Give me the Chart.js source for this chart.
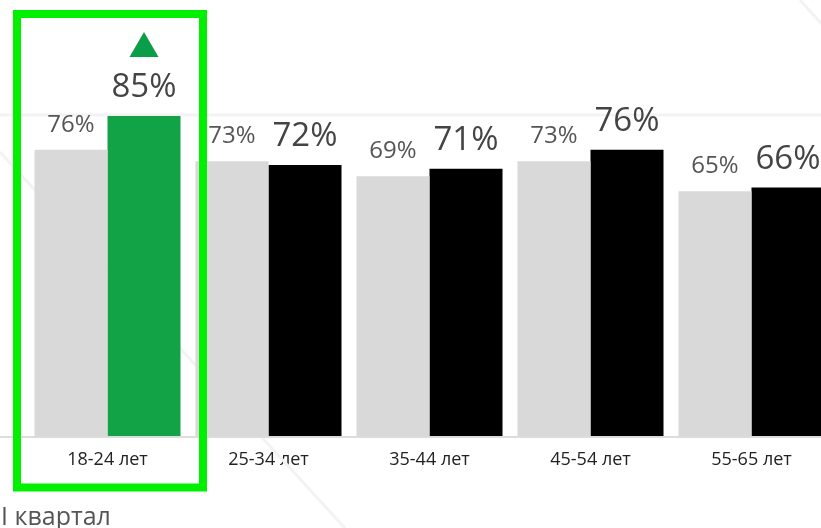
<!DOCTYPE html>
<html>
<head>
<meta charset="utf-8">
<script src="https://cdn.jsdelivr.net/npm/chart.js@4"></script>
<style>
    html, body { margin: 0; padding: 0; background: #fff; overflow: hidden; }
    #wrap { position: absolute; left: 0; top: 0; width: 832px; height: 528px; }
</style>
</head>
<body>
<div id="wrap"><canvas id="ageChart"></canvas></div>
<script>

const categories = ['18-24 лет', '25-34 лет', '35-44 лет', '45-54 лет', '55-65 лет'];
const prevValues = [76, 73, 69, 73, 65];
const currValues = [85, 72, 71, 76, 66];
const currColors = ['#13a347', '#000000', '#000000', '#000000', '#000000'];
const highlightIndex = 0;
const periodTitle = 'I квартал';

const FONT = '"Open Sans", sans-serif';

// faint background strokes, drawn under the bars
const backdrop = {
    id: 'backdrop',
    beforeDatasetsDraw(chart) {
        const ctx = chart.ctx;
        ctx.save();
        ctx.strokeStyle = '#f3f3f3';
        ctx.lineWidth = 3;
        ctx.beginPath();
        ctx.moveTo(0, 115); ctx.lineTo(chart.width, 115);
        ctx.moveTo(0, 152); ctx.lineTo(345, 528);
        ctx.moveTo(800, 0); ctx.lineTo(840, 44);
        ctx.stroke();
        ctx.restore();
    },
    afterDatasetsDraw(chart) {
        // baseline runs the full width
        const ctx = chart.ctx;
        const y0 = chart.scales.y.getPixelForValue(0);
        ctx.save();
        ctx.strokeStyle = '#dcdcdc';
        ctx.lineWidth = 2;
        ctx.beginPath();
        ctx.moveTo(0, y0 + 1); ctx.lineTo(chart.width, y0 + 1);
        ctx.stroke();
        ctx.restore();
    }
};

// percentage labels over each bar
const valueLabels = {
    id: 'valueLabels',
    afterDatasetsDraw(chart) {
        const ctx = chart.ctx;
        ctx.save();
        ctx.textAlign = 'center';
        ctx.textBaseline = 'alphabetic';
        chart.data.datasets.forEach((ds, di) => {
            const meta = chart.getDatasetMeta(di);
            meta.data.forEach((bar, i) => {
                if (di === 0) {
                    ctx.font = '24px ' + FONT;
                    ctx.fillStyle = '#555555';
                    ctx.fillText(ds.data[i] + '%', bar.x, bar.y - 18);
                } else {
                    ctx.font = '33px ' + FONT;
                    ctx.fillStyle = '#444444';
                    ctx.fillText(ds.data[i] + '%', bar.x, bar.y - 19);
                }
            });
        });
        ctx.restore();
    }
};

// green frame around the highlighted group, arrow over its bar, period caption
const highlight = {
    id: 'highlight',
    afterDraw(chart) {
        const ctx = chart.ctx;
        const cx = chart.scales.x.getPixelForValue(highlightIndex);
        const bar = chart.getDatasetMeta(1).data[highlightIndex];
        ctx.save();
        ctx.strokeStyle = '#00f000';
        ctx.lineWidth = 8;
        ctx.strokeRect(cx - 90.5, 14, 186, 473.5);

        ctx.fillStyle = '#0b9d49';
        ctx.beginPath();
        ctx.moveTo(bar.x, bar.y - 84);
        ctx.lineTo(bar.x + 14.5, bar.y - 59);
        ctx.lineTo(bar.x - 14.5, bar.y - 59);
        ctx.closePath();
        ctx.fill();

        ctx.font = '25px ' + FONT;
        ctx.fillStyle = '#555555';
        ctx.textAlign = 'left';
        ctx.textBaseline = 'alphabetic';
        ctx.fillText(periodTitle, 1, 525);
        ctx.restore();
    }
};

const ageChart = new Chart(document.getElementById('ageChart'), {
    type: 'bar',
    data: {
        labels: categories,
        datasets: [{
            label: 'prev',
            data: prevValues,
            backgroundColor: '#d9d9d9',
            barPercentage: 1,
            categoryPercentage: 0.907
        }, {
            label: 'curr',
            data: currValues,
            backgroundColor: currColors,
            barPercentage: 1,
            categoryPercentage: 0.907
        }]
    },
    options: {
        responsive: true,
        maintainAspectRatio: false,
        animation: false,
        layout: { padding: { left: 27, right: 0, top: 59.5, bottom: 0 } },
        plugins: {
            legend: { display: false },
            tooltip: { enabled: false }
        },
        scales: {
            x: {
                grid: { display: false, drawTicks: false },
                border: { display: false },
                ticks: {
                    color: '#222222',
                    padding: 13,
                    font: { family: FONT, size: 18 }
                },
                afterFit(scale) { scale.height = 92; }
            },
            y: {
                display: false,
                min: 0,
                max: 100
            }
        }
    },
    plugins: [backdrop, valueLabels, highlight]
});
</script>
</body>
</html>
